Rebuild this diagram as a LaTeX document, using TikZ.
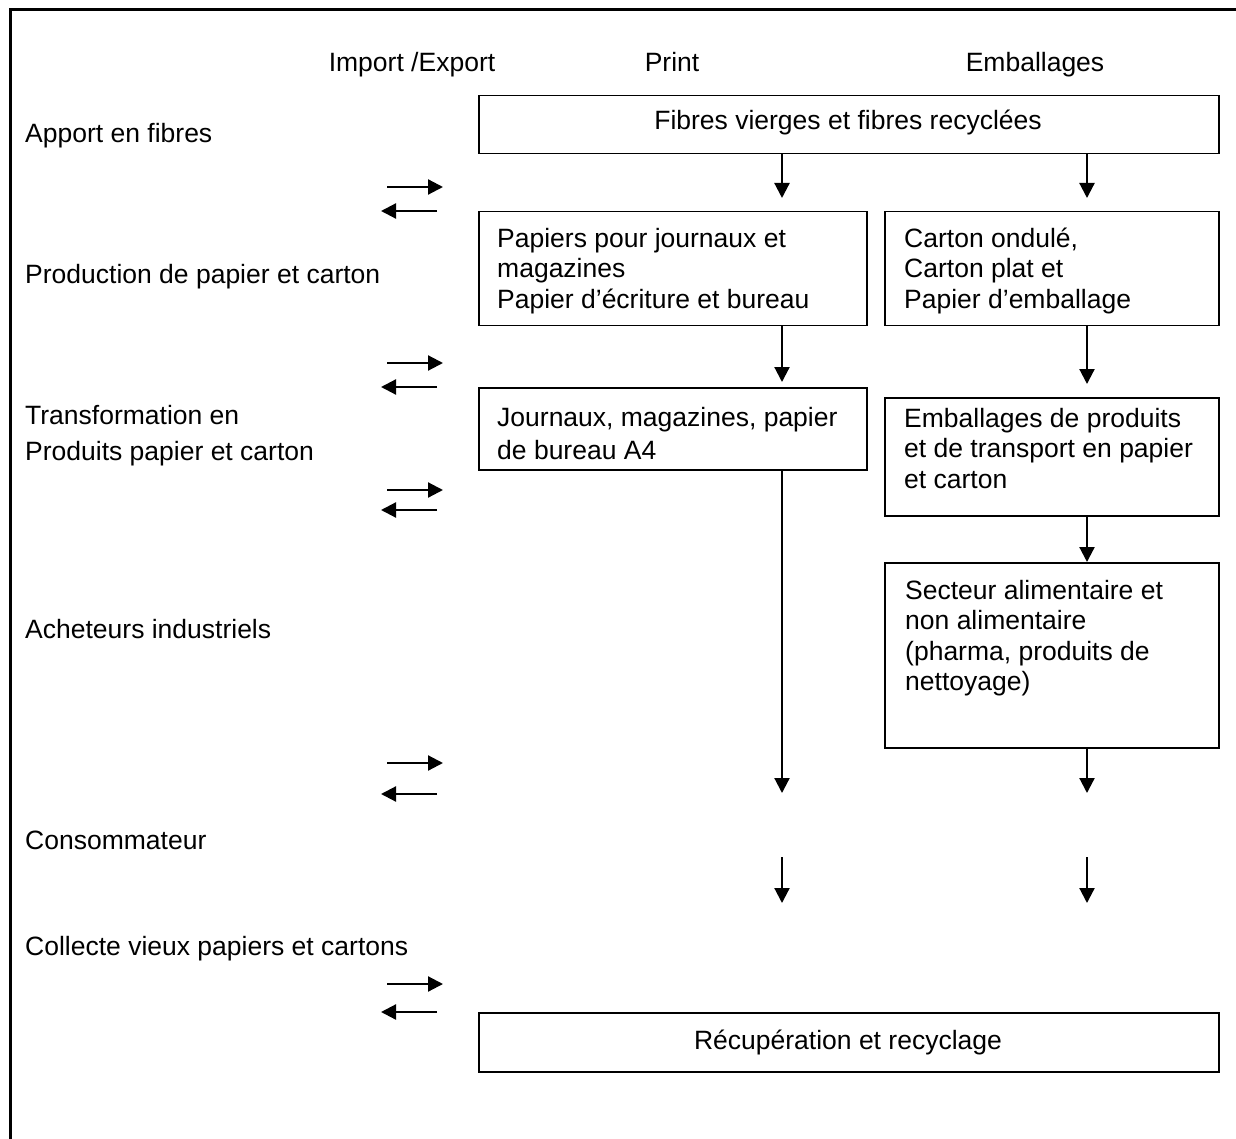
\documentclass[tikz,border=0pt]{standalone}
\usepackage{fontspec}
\setmainfont{Liberation Sans}
\usetikzlibrary{arrows.meta}
\newcommand{\fsz}{\fontsize{26.5}{30.5}\selectfont}
\begin{document}
\begin{tikzpicture}[x=1pt,y=-1pt,
  box/.style={draw, line width=1.5pt, inner sep=0pt, anchor=north west},
  lbl/.style={inner sep=0pt, anchor=base west, font=\fsz},
  ctr/.style={inner sep=0pt, anchor=base, font=\fsz},
  mtxt/.style={inner sep=0pt, anchor=north west, align=left, font=\fsz},
  arr/.style={line width=2.2pt, -{Triangle[width=15pt,length=15pt]}}]
\useasboundingbox (0,0) rectangle (1236,1139);
% outer frame
\draw[line width=2.5pt] (10.5,1139) -- (10.5,9.7) -- (1236,9.7);

% headers
\node[ctr] (hImp) at (412,72) {Import /Export};
\node[ctr] (hPri) at (672,72) {Print};
\node[ctr] (hEmb) at (1035,72) {Emballages};

% left labels
\node[lbl] (lApp) at (25,143) {Apport en fibres};
\node[lbl] (lPro) at (25,284) {Production de papier et carton};
\node[mtxt] (lTra) at (25,402.6) {\strut Transformation en\\[5.5pt]Produits papier et carton};
\node[lbl] (lAch) at (25,638) {Acheteurs industriels};
\node[lbl] (lCon) at (25,849) {Consommateur};
\node[lbl] (lCol) at (25,955) {Collecte vieux papiers et cartons};

% boxes
\node[box, minimum width=740pt, minimum height=58pt] (fib) at (478,95) {};
\node[ctr] (tfib) at (848,130) {Fibres vierges et fibres recyclées};
\node[box, minimum width=388pt, minimum height=114pt] (pap) at (478,211) {};
\node[mtxt] (tpap) at (497,225.6) {\strut Papiers pour journaux et\\magazines\\Papier d’écriture et bureau};
\node[box, minimum width=334pt, minimum height=114pt] (car) at (884,211) {};
\node[mtxt] (tcar) at (904,225.6) {\strut Carton ondulé,\\Carton plat et\\Papier d’emballage};
\node[box, minimum width=388pt, minimum height=82pt] (jou) at (478,387) {};
\node[mtxt] (tjou) at (497,404.6) {\strut Journaux, magazines, papier\\[2.5pt]de bureau A4};
\node[box, minimum width=334pt, minimum height=118pt] (emb) at (884,397) {};
\node[mtxt] (temb) at (904,405.6) {\strut Emballages de produits\\et de transport en papier\\et carton};
\node[box, minimum width=334pt, minimum height=185pt] (sec) at (884,562) {};
\node[mtxt] (tsec) at (905,577.6) {\strut Secteur alimentaire et\\non alimentaire\\(pharma, produits de\\nettoyage)};
\node[box, minimum width=740pt, minimum height=59pt] (rec) at (478,1012) {};
\node[ctr] (trec) at (848,1049) {Récupération et recyclage};

% column guides
\coordinate (cP) at (782,0);
\coordinate (cE) at (1087,0);

% vertical arrows
\draw[arr, shorten >=13pt] (fib.south -| cP) -- (pap.north -| cP);
\draw[arr, shorten >=13pt] (fib.south -| cE) -- (car.north -| cE);
\draw[arr, shorten >=5pt] (pap.south -| cP) -- (jou.north -| cP);
\draw[arr, shorten >=13pt] (car.south -| cE) -- (emb.north -| cE);
\coordinate (pEnd) at (782,793);
\coordinate (eEnd) at (1087,793);
\draw[arr] (jou.south -| cP) -- (pEnd);
\draw[arr] (emb.south -| cE) -- (sec.north -| cE);
\draw[arr] (sec.south -| cE) -- (eEnd);
\coordinate (pA) at (782,857);
\coordinate (pB) at (782,903);
\coordinate (eA) at (1087,857);
\coordinate (eB) at (1087,903);
\draw[arr] (pA) -- (pB);
\draw[arr] (eA) -- (eB);

% import/export arrows
\foreach \n/\ya/\yb in {1/187/211, 2/363/387, 3/490/510, 4/763/794, 5/984/1012}{
  \coordinate (r\n a) at (387,\ya);
  \coordinate (r\n b) at (443,\ya);
  \coordinate (l\n a) at (437,\yb);
  \coordinate (l\n b) at (381,\yb);
  \draw[arr] (r\n a) -- (r\n b);
  \draw[arr] (l\n a) -- (l\n b);
}
\end{tikzpicture}
\end{document}
